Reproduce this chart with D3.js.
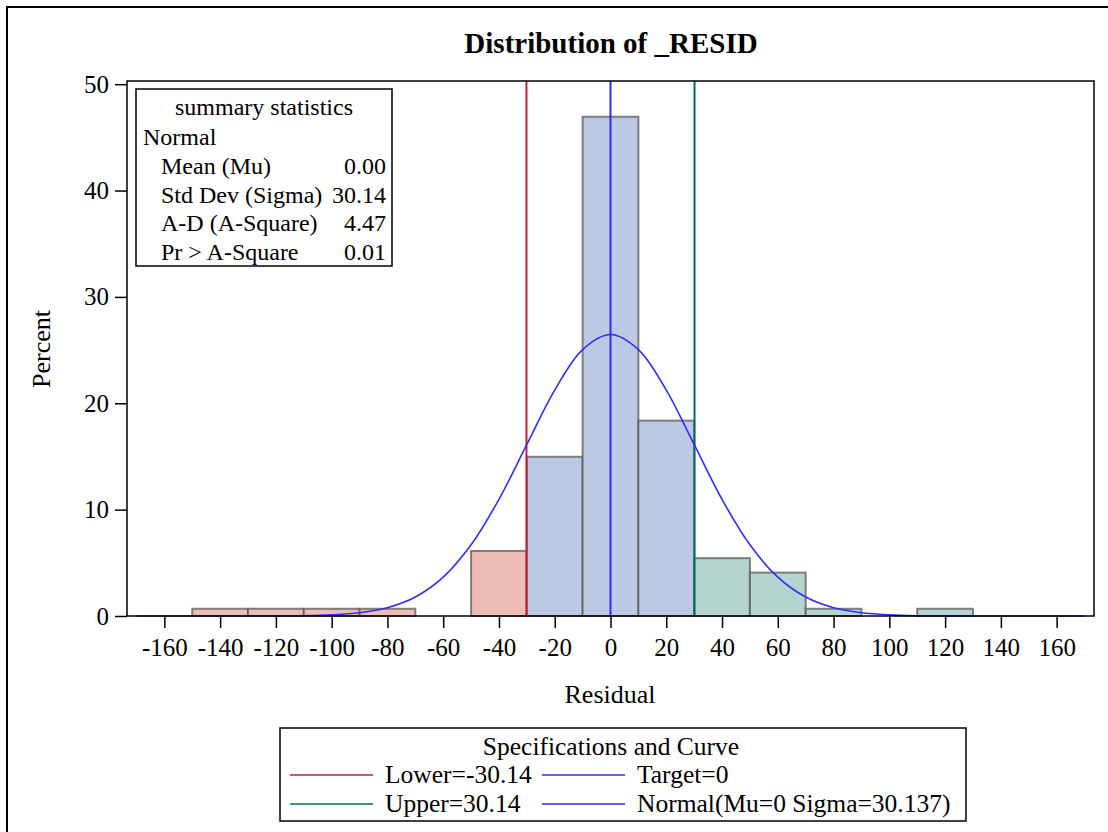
<!DOCTYPE html>
<html>
<head>
<meta charset="utf-8">
<title>Distribution of _RESID</title>
<script src="https://cdnjs.cloudflare.com/ajax/libs/d3/7.8.5/d3.min.js"></script>
<style>
body { margin: 0; background: white; }
text { font-family: "Liberation Serif", "Times New Roman", serif; fill: black; }
.title { font-size: 29px; font-weight: bold; text-anchor: middle; }
.axis text { font-size: 25px; font-family: "Liberation Serif", serif; }
.axis path, .axis line { stroke: black; stroke-width: 1.5; }
.label { font-size: 26px; text-anchor: middle; }
.inset text { font-size: 24px; }
.legend text { font-size: 25.5px; }
.bar { stroke: #5a5a5a; stroke-opacity: 0.75; stroke-width: 2; }
</style>
</head>
<body>
<svg width="1108" height="832"></svg>
<script>
// histogram bins (midpoints, width 20) and percent of obs
var binMids = [-140, -120, -100, -80, -40, -20, 0, 20, 40, 60, 80, 120];
var binPct  = [0.68, 0.68, 0.68, 0.68, 6.12, 14.97, 46.94, 18.37, 5.44, 4.08, 0.68, 0.68];
var binWidth = 20;

// fitted normal curve
var curveX = [-170, -160, -150, -140, -130, -120, -110, -100, -90, -80, -70, -60, -50, -40, -30, -20, -10, 0,
              10, 20, 30, 40, 50, 60, 70, 80, 90, 100, 110, 120, 130, 140, 150, 160, 170];
var curveY = [0, 0, 0, 0, 0, 0.01, 0.03, 0.11, 0.31, 0.78, 1.78, 3.65, 6.69, 10.97, 16.13, 21.24, 25.05, 26.47,
              25.05, 21.24, 16.13, 10.97, 6.69, 3.65, 1.78, 0.78, 0.31, 0.11, 0.03, 0.01, 0, 0, 0, 0, 0];

var xTicks = [-160, -140, -120, -100, -80, -60, -40, -20, 0, 20, 40, 60, 80, 100, 120, 140, 160];
var yTicks = [0, 10, 20, 30, 40, 50];

var lowerSpec = -30.14, targetSpec = 0, upperSpec = 30.14;

var statLabels = ["Mean (Mu)", "Std Dev (Sigma)", "A-D (A-Square)", "Pr > A-Square"];
var statValues = ["0.00", "30.14", "4.47", "0.01"];

var legendItems = [
  {label: "Lower=-30.14", color: "#c2203a"},
  {label: "Target=0", color: "#2f2ff0"},
  {label: "Upper=30.14", color: "#006e62"},
  {label: "Normal(Mu=0 Sigma=30.137)", color: "#2f2ff0"}
];

var pArea = [127, 81, 1094, 616]; // left, top, right, bottom
var svg = d3.select("svg");

// outer frame
svg.append("rect")
  .attr("x", 7).attr("y", 7).attr("width", 1300).attr("height", 1000)
  .attr("fill", "none").attr("stroke", "black").attr("stroke-width", 2);

var x = d3.scaleLinear().domain([-173.4, 173.4]).range([pArea[0], pArea[2]]);
var y = d3.scaleLinear().domain([0, 50.3]).range([pArea[3], pArea[1]]);

svg.append("text").attr("class", "title")
  .attr("x", 611).attr("y", 53)
  .text("Distribution of _RESID");

// bars
var bars = binMids.map(function (m, i) { return {mid: m, pct: binPct[i]}; });
svg.append("g").selectAll("rect")
  .data(bars).enter().append("rect")
  .attr("class", "bar")
  .attr("x", function (d) { return x(d.mid - binWidth / 2); })
  .attr("width", function (d) { return x(d.mid + binWidth / 2) - x(d.mid - binWidth / 2); })
  .attr("y", function (d) { return y(d.pct); })
  .attr("height", function (d) { return y(0) - y(d.pct); })
  .attr("fill", function (d) {
    if (d.mid < lowerSpec) return "#edbcb5";
    if (d.mid > upperSpec) return "#b4d4d0";
    return "#bcc8e4";
  });

// spec lines
[[lowerSpec, "#c2203a"], [targetSpec, "#2f2ff0"], [upperSpec, "#006e62"]].forEach(function (s) {
  svg.append("line")
    .attr("x1", x(s[0])).attr("x2", x(s[0]))
    .attr("y1", pArea[1]).attr("y2", pArea[3])
    .attr("stroke", s[1]).attr("stroke-width", 2);
});

// normal curve
var line = d3.line()
  .x(function (d, i) { return x(curveX[i]); })
  .y(function (d) { return y(d); })
  .curve(d3.curveCatmullRom);
svg.append("path")
  .attr("d", line(curveY))
  .attr("fill", "none").attr("stroke", "#2f2ff0").attr("stroke-width", 1.6);

// plot frame
svg.append("rect")
  .attr("x", pArea[0]).attr("y", pArea[1])
  .attr("width", pArea[2] - pArea[0]).attr("height", pArea[3] - pArea[1])
  .attr("fill", "none").attr("stroke", "black").attr("stroke-width", 1.5);

svg.append("g").attr("class", "axis")
  .attr("transform", "translate(0," + pArea[3] + ")")
  .call(d3.axisBottom(x).tickValues(xTicks).tickSize(12).tickPadding(10).tickSizeOuter(0)
    .tickFormat(function (d) { return String(d); }))
  .call(function (g) { g.select(".domain").remove(); });

svg.append("g").attr("class", "axis")
  .attr("transform", "translate(" + pArea[0] + ",0)")
  .call(d3.axisLeft(y).tickValues(yTicks).tickSize(12).tickPadding(6).tickSizeOuter(0))
  .call(function (g) { g.select(".domain").remove(); });

svg.append("text").attr("class", "label")
  .attr("x", 610).attr("y", 703).text("Residual");
svg.append("text").attr("class", "label")
  .attr("transform", "rotate(-90)")
  .attr("x", -349).attr("y", 50).text("Percent");

// summary statistics inset
var inset = svg.append("g").attr("class", "inset");
inset.append("rect")
  .attr("x", 136).attr("y", 89).attr("width", 256).attr("height", 177)
  .attr("fill", "white").attr("stroke", "black").attr("stroke-width", 1.5);
inset.append("text").attr("x", 264).attr("y", 115).attr("text-anchor", "middle").text("summary statistics");
inset.append("text").attr("x", 143).attr("y", 145).text("Normal");
statLabels.forEach(function (s, i) {
  inset.append("text").attr("x", 161).attr("y", 174 + i * 28.7).text(s);
  inset.append("text").attr("x", 386).attr("y", 174 + i * 28.7).attr("text-anchor", "end").text(statValues[i]);
});

// legend
var legend = svg.append("g").attr("class", "legend");
legend.append("rect")
  .attr("x", 280).attr("y", 728).attr("width", 686).attr("height", 93)
  .attr("fill", "white").attr("stroke", "black").attr("stroke-width", 1.5);
legend.append("text").attr("x", 611).attr("y", 755).attr("text-anchor", "middle").text("Specifications and Curve");
legendItems.forEach(function (d, i) {
  var col = i % 2, row = Math.floor(i / 2);
  var lx = col === 0 ? 290 : 542;
  var ly = 775 + row * 29;
  legend.append("line")
    .attr("x1", lx).attr("x2", lx + 83).attr("y1", ly).attr("y2", ly)
    .attr("stroke", d.color).attr("stroke-width", 1.6);
  legend.append("text").attr("x", lx + 95).attr("y", ly + 8).text(d.label);
});
</script>
</body>
</html>
